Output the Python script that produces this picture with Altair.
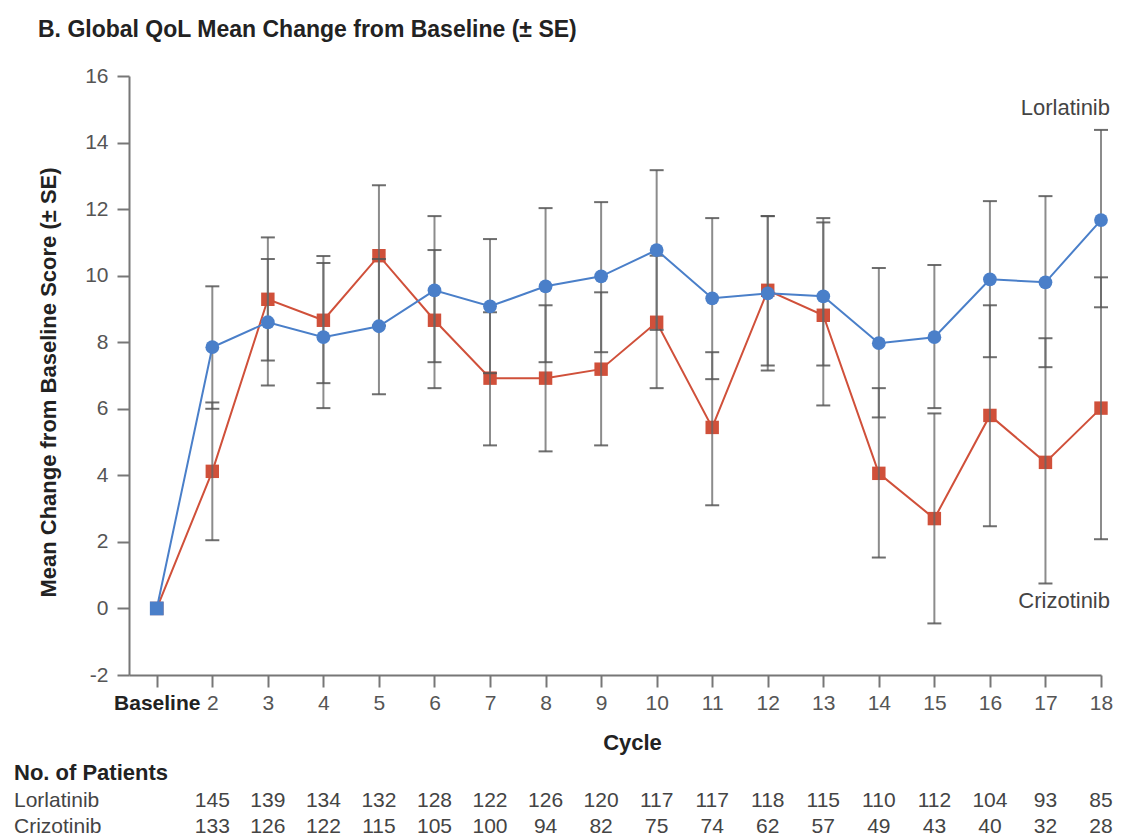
import json
import altair as alt
import pandas as pd

# ---------------- data ----------------
cycles = ["Baseline", "2", "3", "4", "5", "6", "7", "8", "9", "10",
          "11", "12", "13", "14", "15", "16", "17", "18"]

lor_mean = [0, 7.85, 8.6, 8.15, 8.48, 9.56, 9.08, 9.68, 9.98, 10.77,
            9.32, 9.47, 9.38, 7.97, 8.15, 9.89, 9.8, 11.67]
lor_upper = [None, 9.68, 10.5, 10.38, 10.5, 11.79, 11.1, 12.03, 12.21, 13.17,
             11.73, 11.79, 11.73, 10.23, 10.32, 12.24, 12.39, 14.38]
lor_lower = [None, 6.0, 6.7, 6.02, 6.44, 7.4, 7.07, 7.4, 7.7, 8.37,
             6.89, 7.15, 7.3, 5.74, 6.02, 7.55, 7.25, 9.05]

crz_mean = [0, 4.12, 9.29, 8.66, 10.6, 8.66, 6.92, 6.92, 7.19, 8.6,
            5.44, 9.56, 8.81, 4.06, 2.7, 5.8, 4.39, 6.02]
crz_upper = [None, 6.19, 11.15, 10.59, 12.72, 10.77, 8.9, 9.11, 9.5, 10.6,
             7.7, 11.79, 11.6, 6.62, 5.86, 9.11, 8.12, 9.95]
crz_lower = [None, 2.05, 7.45, 6.77, 8.5, 6.62, 4.9, 4.72, 4.9, 6.62,
             3.1, 7.3, 6.1, 1.53, -0.45, 2.47, 0.75, 2.08]

lor_n = [145, 139, 134, 132, 128, 122, 126, 120, 117, 117, 118, 115, 110, 112, 104, 93, 85]
crz_n = [133, 126, 122, 115, 105, 100, 94, 82, 75, 74, 62, 57, 49, 43, 40, 32, 28]

title_text = "B. Global QoL Mean Change from Baseline (\u00b1 SE)"
y_title = "Mean Change from Baseline Score (\u00b1 SE)"
x_title = "Cycle"
y_ticks = [-2, 0, 2, 4, 6, 8, 10, 12, 14, 16]

# ---------------- tables ----------------
idx = list(range(len(cycles)))
lor = pd.DataFrame({"idx": idx, "mean": lor_mean, "upper": lor_upper, "lower": lor_lower})
crz = pd.DataFrame({"idx": idx, "mean": crz_mean, "upper": crz_upper, "lower": crz_lower})
bars = pd.concat([crz, lor], ignore_index=True)
counts_lor = pd.DataFrame({"idx": idx[1:], "n": lor_n})
counts_crz = pd.DataFrame({"idx": idx[1:], "n": crz_n})

BLUE = "#4a7fc9"
RED = "#d0503a"
GREY = "#666666"
FONT = "Liberation Sans"

xscale = alt.Scale(domain=[-0.5, 17], nice=False, zero=False)
yscale = alt.Scale(domain=[-2, 16], nice=False, zero=False)

xaxis = alt.Axis(
    values=idx,
    labelExpr=json.dumps(cycles) + "[datum.value]",
    labelFontSize=21,
    labelFont=FONT,
    labelColor={"condition": {"test": "datum.value == 0", "value": "#222222"}, "value": "#555555"},
    labelFontWeight={"condition": {"test": "datum.value == 0", "value": "bold"}, "value": "normal"},
    labelPadding=5,
    labelOverlap=False,
    labelFlush=False,
    tickSize=12, tickWidth=2, tickColor="#777777",
    domainColor="#777777", domainWidth=2,
    grid=False,
    title=x_title, titleFont=FONT, titleFontSize=22, titleFontWeight="bold",
    titleColor="#222222", titleX=503, titleY=67, titleAlign="center",
    titleBaseline="middle", titleAngle=0,
)
yaxis = alt.Axis(
    values=y_ticks,
    labelExpr="toString(datum.value)",
    labelFontSize=21, labelFont=FONT, labelColor="#555555",
    labelPadding=9,
    tickSize=12, tickWidth=2, tickColor="#777777",
    domainColor="#777777", domainWidth=2,
    grid=False,
    title=y_title, titleFont=FONT, titleFontSize=22, titleFontWeight="bold",
    titleColor="#222222", titleX=-81, titleY=306, titleAngle=270,
    titleAlign="center", titleBaseline="middle",
)


def X():
    return alt.X("idx:Q", scale=xscale, axis=xaxis)


def Y(field):
    return alt.Y(field + ":Q", scale=yscale, axis=yaxis)


red_line = alt.Chart(crz).mark_line(color=RED, strokeWidth=2).encode(x=X(), y=Y("mean"))
red_pts = alt.Chart(crz).mark_point(filled=True, color=RED, opacity=1, shape="square", size=180).encode(
    x=X(), y=Y("mean"))
blue_line = alt.Chart(lor).mark_line(color=BLUE, strokeWidth=2).encode(x=X(), y=Y("mean"))
blue_pts = alt.Chart(lor).mark_point(filled=True, color=BLUE, opacity=1, size=190).encode(
    x=X(), y=Y("mean"),
    shape=alt.condition("datum.idx == 0", alt.value("square"), alt.value("circle")),
)

err_base = alt.Chart(bars).transform_filter("isValid(datum.upper)")
err_rule = err_base.mark_rule(color=GREY, strokeWidth=2, opacity=0.75).encode(
    x=X(), y=Y("lower"), y2="upper:Q")
err_cap = err_base.transform_fold(["upper", "lower"], as_=["bound", "val"]).mark_tick(
    orient="horizontal", color="#555555", size=14, thickness=2, opacity=0.85
).encode(x=X(), y=Y("val"))


def label(text, x, y, size, weight="normal", align="left", color="#222222"):
    return alt.Chart(pd.DataFrame({"t": [text]})).mark_text(
        align=align, baseline="middle", fontSize=size, fontWeight=weight,
        font=FONT, color=color
    ).encode(x=alt.value(x), y=alt.value(y), text="t:N")


title = label(title_text, -91, -46, 23, "bold")
lor_lab = label("Lorlatinib", 981, 32, 22, align="right", color="#444444")
crz_lab = label("Crizotinib", 981, 525, 22, align="right", color="#444444")
nop = label("No. of Patients", -115, 697, 22, "bold")
row1 = label("Lorlatinib", -115, 725, 21, color="#444444")
row2 = label("Crizotinib", -115, 751, 21, color="#444444")

cnt1 = alt.Chart(counts_lor).mark_text(fontSize=21, font=FONT, color="#444444", baseline="middle").encode(
    x=X(), y=alt.value(725), text="n:Q")
cnt2 = alt.Chart(counts_crz).mark_text(fontSize=21, font=FONT, color="#444444", baseline="middle").encode(
    x=X(), y=alt.value(751), text="n:Q")

chart = alt.layer(
    red_line, red_pts, err_rule, err_cap, blue_line, blue_pts,
    title, lor_lab, crz_lab, nop, row1, row2, cnt1, cnt2,
).properties(
    width=972, height=599,
    padding={"left": 121, "top": 68, "right": 12, "bottom": 162},
    autosize=alt.AutoSizeParams(type="none"),
    background="white",
).configure(font=FONT).configure_view(stroke="transparent", strokeWidth=0)

chart.save("out.html", embed_options={"renderer": "svg", "actions": False})
